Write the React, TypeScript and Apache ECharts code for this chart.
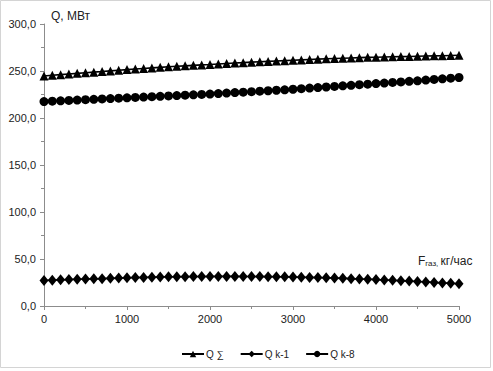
import React, { useEffect, useRef } from "react";
import * as echarts from "echarts";

const xValues: number[] = [
  0, 100, 200, 300, 400, 500, 600, 700, 800, 900, 1000, 1100, 1200, 1300, 1400, 1500, 1600, 1700, 1800, 1900,
  2000, 2100, 2200, 2300, 2400, 2500, 2600, 2700, 2800, 2900, 3000, 3100, 3200, 3300, 3400, 3500, 3600, 3700,
  3800, 3900, 4000, 4100, 4200, 4300, 4400, 4500, 4600, 4700, 4800, 4900, 5000,
];

const qSum: number[] = [
  244.6, 245.4, 246.1, 246.8, 247.5, 248.2, 248.8, 249.4, 250.1, 250.8, 251.5, 252.1, 252.7, 253.3, 253.9,
  254.5, 255.0, 255.5, 256.0, 256.5, 256.9, 257.5, 258.0, 258.5, 258.9, 259.4, 259.8, 260.2, 260.6, 261.0,
  261.4, 261.8, 262.2, 262.6, 263.0, 263.3, 263.6, 263.9, 264.2, 264.5, 264.7, 264.9, 265.1, 265.3, 265.5,
  265.7, 265.9, 266.1, 266.3, 266.5, 266.7,
];

const qK1: number[] = [
  27.1, 27.5, 27.8, 28.1, 28.4, 28.7, 28.9, 29.1, 29.4, 29.7, 30.0, 30.2, 30.4, 30.6, 30.8, 31.0, 31.1, 31.2,
  31.3, 31.4, 31.4, 31.5, 31.5, 31.5, 31.4, 31.4, 31.3, 31.2, 31.1, 31.0, 30.8, 30.6, 30.4, 30.2, 30.0, 29.7,
  29.4, 29.1, 28.8, 28.5, 28.1, 27.7, 27.3, 26.9, 26.5, 26.1, 25.6, 25.1, 24.6, 24.1, 23.6,
];

const qK8: number[] = [
  217.5, 217.9, 218.3, 218.7, 219.1, 219.5, 219.9, 220.3, 220.7, 221.1, 221.5, 221.9, 222.3, 222.7, 223.1,
  223.5, 223.9, 224.3, 224.7, 225.1, 225.5, 226.0, 226.5, 227.0, 227.5, 228.0, 228.5, 229.0, 229.5, 230.0,
  230.6, 231.2, 231.8, 232.4, 233.0, 233.6, 234.2, 234.8, 235.4, 236.0, 236.6, 237.2, 237.8, 238.4, 239.0,
  239.6, 240.3, 241.0, 241.7, 242.4, 243.1,
];

const seriesNames: string[] = ["Q ∑", "Q k-1", "Q k-8"];

const FONT = "'Liberation Sans', Arial, sans-serif";
const TEXT = "#222";
const AXIS = "#8c8c8c";

export default function App() {
  const ref = useRef<HTMLDivElement>(null);

  useEffect(() => {
    document.body.style.margin = "0";
    if (!ref.current) return;
    const chart = echarts.init(ref.current, undefined, { renderer: "svg" });
    const pair = (arr: number[]) => xValues.map((x, i) => [x, arr[i]]);
    const baseSeries = {
      type: "line" as const,
      lineStyle: { color: "#000", width: 1.6 },
      itemStyle: { color: "#000" },
      emphasis: { disabled: true },
    };
    chart.setOption({
      animation: false,
      backgroundColor: "#fff",
      textStyle: { fontFamily: FONT },
      grid: { left: 44, right: 34, top: 24, bottom: 65, containLabel: false },
      xAxis: {
        type: "value",
        min: 0,
        max: 5000,
        interval: 1000,
        axisLine: { show: true, lineStyle: { color: AXIS, width: 1 } },
        axisTick: { show: true, length: 4, lineStyle: { color: AXIS } },
        minorTick: { show: true, splitNumber: 2, length: 3, lineStyle: { color: AXIS } },
        splitLine: { show: false },
        axisLabel: {
          color: TEXT,
          fontSize: 11,
          fontFamily: FONT,
          margin: 7,
          formatter: (v: number) => String(v),
        },
      },
      yAxis: {
        type: "value",
        min: 0,
        max: 300,
        interval: 50,
        axisLine: { show: true, lineStyle: { color: AXIS, width: 1 } },
        axisTick: { show: true, length: 4, lineStyle: { color: AXIS } },
        minorTick: { show: true, splitNumber: 2, length: 3, lineStyle: { color: AXIS } },
        splitLine: { show: false },
        axisLabel: {
          color: TEXT,
          fontSize: 11,
          fontFamily: FONT,
          margin: 8,
          formatter: (v: number) => v.toFixed(1).replace(".", ","),
        },
      },
      legend: {
        left: 176,
        top: 344,
        itemWidth: 22,
        itemHeight: 8,
        itemGap: 16,
        textStyle: { color: TEXT, fontSize: 10, fontFamily: FONT, padding: [0, 0, 0, -3] },
        data: seriesNames,
      },
      graphic: [
        {
          type: "rect",
          shape: { x: 0.5, y: 0.5, width: 490, height: 367 },
          style: { fill: "none", stroke: "#d4d4d4", lineWidth: 1 },
          silent: true,
        },
        {
          type: "text",
          left: 51,
          top: 10,
          style: { text: "Q, МВт", fill: TEXT, font: `12px ${FONT}` },
        },
        {
          type: "text",
          left: 418,
          top: 255,
          style: {
            text: "{a|F}{b|газ, }{a|кг/час}",
            fill: TEXT,
            rich: {
              a: { fontSize: 12, fontFamily: FONT, fill: TEXT, verticalAlign: "bottom" },
              b: { fontSize: 8, fontFamily: FONT, fill: TEXT, padding: [5, 0, 0, 0], verticalAlign: "bottom" },
            },
          },
        },
      ],
      series: [
        {
          ...baseSeries,
          name: seriesNames[0],
          data: pair(qSum),
          symbol: "triangle",
          symbolSize: 9,
        },
        {
          ...baseSeries,
          name: seriesNames[1],
          data: pair(qK1),
          symbol: "diamond",
          symbolSize: [9, 11],
        },
        {
          ...baseSeries,
          name: seriesNames[2],
          data: pair(qK8),
          symbol: "circle",
          symbolSize: 9,
        },
      ],
    });
    return () => chart.dispose();
  }, []);

  return <div ref={ref} style={{ width: 493, height: 371 }} />;
}
